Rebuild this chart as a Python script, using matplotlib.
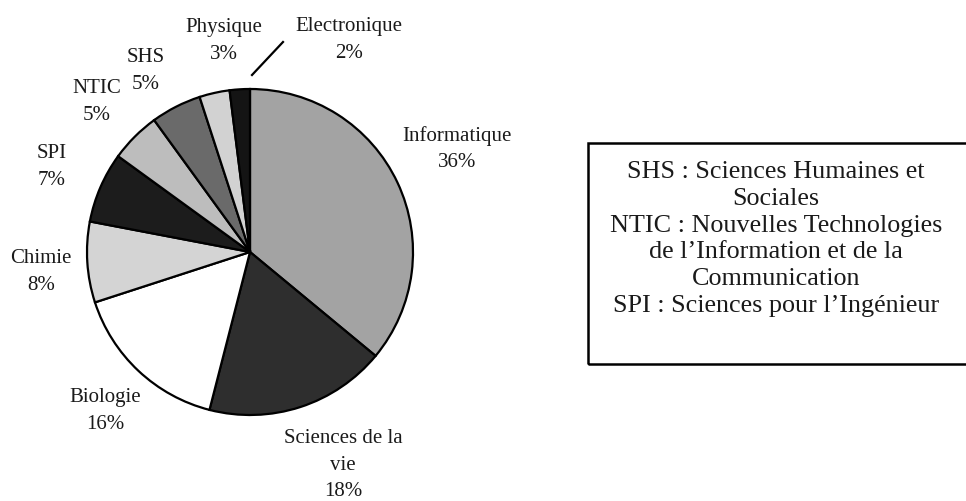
import matplotlib
matplotlib.use("Agg")
import matplotlib.pyplot as plt
from matplotlib.patches import Rectangle

categories = ["Informatique", "Sciences de la vie", "Biologie", "Chimie", "SPI",
              "NTIC", "SHS", "Physique", "Electronique"]
values = [36, 18, 16, 8, 7, 5, 5, 3, 2]
label_texts = ["Informatique\n36%", "Sciences de la\nvie\n18%", "Biologie\n16%",
               "Chimie\n8%", "SPI\n7%", "NTIC\n5%", "SHS\n5%", "Physique\n3%",
               "Electronique\n2%"]
colors = ["#a3a3a3", "#2e2e2e", "#ffffff", "#d4d4d4", "#1c1c1c",
          "#bdbdbd", "#6a6a6a", "#d2d2d2", "#141414"]

legend_lines = ["SHS : Sciences Humaines et", "Sociales",
                "NTIC : Nouvelles Technologies", "de l\u2019Information et de la",
                "Communication", "SPI : Sciences pour l\u2019Ing\u00e9nieur"]

W, H = 966, 501
# label centres in pixel coordinates (x, y from top)
label_pos = [(457, 149), (343, 465), (105, 411), (41, 272), (52, 167),
             (97, 102), (146, 71), (224, 41), (349, 40)]

plt.rcParams['font.family'] = ['Liberation Serif', 'DejaVu Serif']

fig = plt.figure(figsize=(W / 100, H / 100), dpi=100)
ax = fig.add_axes([0, 0, 1, 1])

cx, cy, r = 250, H - 252, 163
wedges, _ = ax.pie(values, colors=colors, startangle=90, counterclock=False,
                   center=(cx, cy), radius=r, frame=True,
                   wedgeprops=dict(edgecolor='black', linewidth=1.6))
ax.set_xlim(0, W)
ax.set_ylim(0, H)
ax.set_aspect('equal')
ax.axis('off')

for txt, (x, y) in zip(label_texts, label_pos):
    ax.text(x, H - y, txt, ha='center', va='center', fontsize=15,
            linespacing=1.55, color='#1a1a1a')

# leader line for Electronique
ax.plot([252, 283], [H - 75, H - 42], color='black', lw=1.6)

# legend box
ax.add_patch(Rectangle((588, H - 364), 400, 221, fill=False,
                       edgecolor='black', lw=1.8, clip_on=True))
ax.text(776, H - 239, "\n".join(legend_lines), ha='center', va='center',
        fontsize=18.8, linespacing=1.28, color='#1a1a1a')

fig.savefig("out.png", dpi=100)
